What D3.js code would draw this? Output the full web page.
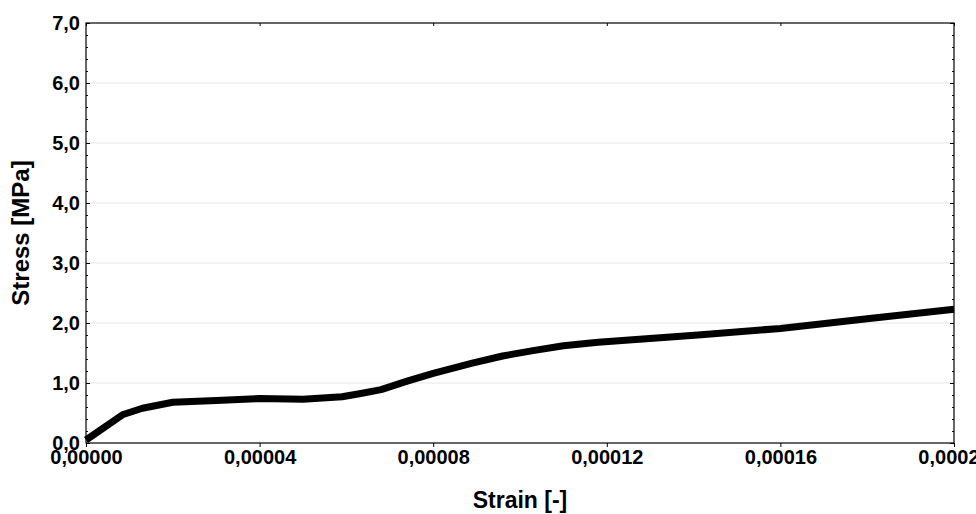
<!DOCTYPE html>
<html>
<head>
<meta charset="utf-8">
<script src="https://cdn.jsdelivr.net/npm/d3@7"></script>
<style>
  body { margin: 0; background: #fff; }
  svg { display: block; font-family: "Liberation Sans", Arial, sans-serif; }
</style>
</head>
<body>
<svg width="976" height="514"></svg>
<script>
// strain [-] and stress [MPa]
const strain = [0, 0.0000084, 0.000013, 0.00002, 0.00003, 0.00004, 0.00005, 0.000059, 0.000063, 0.000068,
                0.000074, 0.00008, 0.000089, 0.000096, 0.000103, 0.00011, 0.000118, 0.000141, 0.00016, 0.00018, 0.0002];
const stress = [0.05, 0.47, 0.58, 0.68, 0.71, 0.74, 0.73, 0.77, 0.82, 0.89,
                1.03, 1.16, 1.33, 1.45, 1.54, 1.62, 1.68, 1.80, 1.91, 2.07, 2.23];
const xTicks = [0, 0.00004, 0.00008, 0.00012, 0.00016, 0.0002];
const yTicks = [0, 1, 2, 3, 4, 5, 6, 7];

const svg = d3.select('svg');
const mLeft = 86, mRight = 954, mTop = 23, mBottom = 443;

const x = d3.scaleLinear().domain([0, 0.0002]).range([mLeft, mRight]);
const y = d3.scaleLinear().domain([0, 7]).range([mBottom, mTop]);

const fmtX = d => d3.format('.5f')(d).replace('.', ',');
const fmtY = d => d3.format('.1f')(d).replace('.', ',');

// horizontal grid
svg.append('g')
  .selectAll('line')
  .data(yTicks.slice(1, -1))
  .join('line')
  .attr('x1', mLeft).attr('x2', mRight)
  .attr('y1', d => y(d)).attr('y2', d => y(d))
  .attr('stroke', '#e6e6e6')
  .attr('stroke-width', 1);

const minorY = d3.range(0, 7.001, 0.2);

// axes
const axisStyle = g => {
  g.select('.domain').remove();
  g.selectAll('line').attr('stroke', '#000');
  g.selectAll('text').attr('fill', '#000').attr('font-weight', 'bold')
    .attr('font-size', '20px').attr('font-family', '"Liberation Sans", Arial, sans-serif');
};

svg.append('g')
  .attr('transform', `translate(0,${mBottom})`)
  .call(d3.axisBottom(x).tickValues(xTicks).tickFormat(fmtX).tickSize(4).tickPadding(3))
  .call(axisStyle);

svg.append('g')
  .attr('transform', `translate(0,${mTop})`)
  .call(d3.axisBottom(x).tickValues(xTicks).tickFormat('').tickSize(3))
  .call(axisStyle);

svg.append('g')
  .attr('transform', `translate(${mLeft},0)`)
  .call(d3.axisRight(y).tickValues(minorY).tickFormat('').tickSize(2))
  .call(axisStyle);

svg.append('g')
  .attr('transform', `translate(${mLeft},0)`)
  .call(d3.axisLeft(y).tickValues(yTicks).tickFormat(fmtY).tickSize(-4).tickPadding(6))
  .call(axisStyle);

svg.append('g')
  .attr('transform', `translate(${mRight},0)`)
  .call(d3.axisLeft(y).tickValues(minorY).tickFormat('').tickSize(2))
  .call(axisStyle);

svg.append('g')
  .attr('transform', `translate(${mRight},0)`)
  .call(d3.axisLeft(y).tickValues(yTicks).tickFormat('').tickSize(4))
  .call(axisStyle);

// frame
svg.append('rect')
  .attr('x', mLeft).attr('y', mTop)
  .attr('width', mRight - mLeft).attr('height', mBottom - mTop)
  .attr('fill', 'none').attr('stroke', '#000').attr('stroke-width', 1.2);

// curve
const data = strain.map((s, i) => ({s: s, v: stress[i]}));
const line = d3.line()
  .x(d => x(d.s))
  .y(d => y(d.v));

svg.append('path')
  .datum(data)
  .attr('d', line)
  .attr('fill', 'none')
  .attr('stroke', '#000')
  .attr('stroke-width', 7)
  .attr('stroke-linejoin', 'round');

// axis titles
svg.append('text')
  .attr('x', (mLeft + mRight) / 2).attr('y', 508)
  .attr('text-anchor', 'middle')
  .attr('font-size', '23px').attr('font-weight', 'bold')
  .text('Strain [-]');

svg.append('text')
  .attr('transform', `translate(29,${(mTop + mBottom) / 2}) rotate(-90)`)
  .attr('text-anchor', 'middle')
  .attr('font-size', '24px').attr('font-weight', 'bold')
  .text('Stress [MPa]');
</script>
</body>
</html>
